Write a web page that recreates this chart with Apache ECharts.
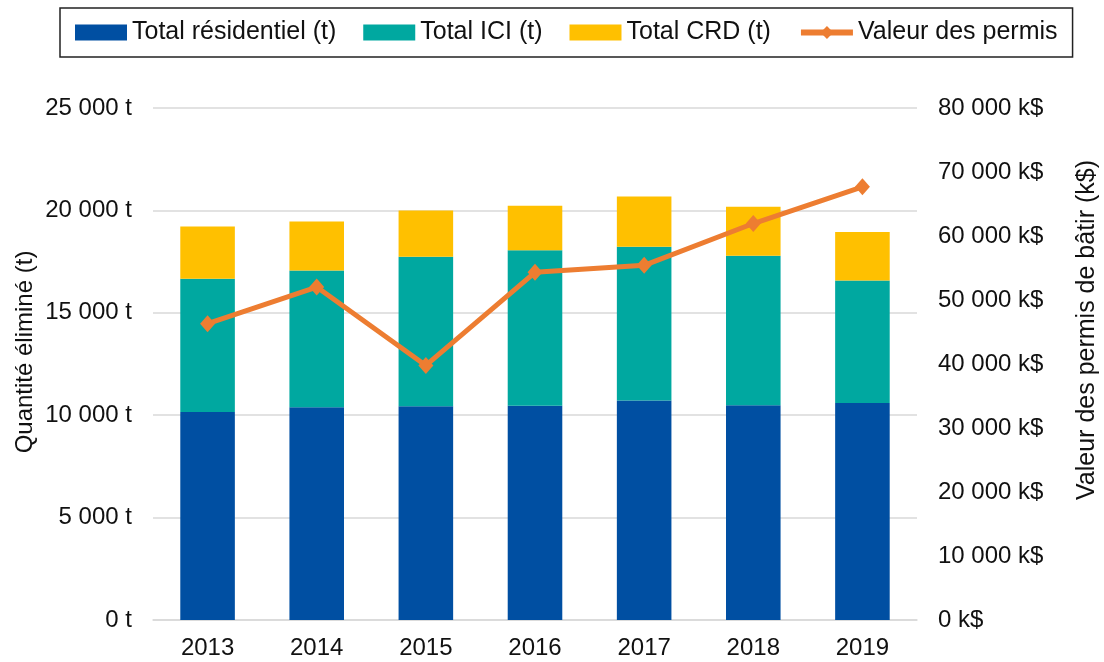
<!DOCTYPE html>
<html><head><meta charset="utf-8">
<script src="https://cdn.jsdelivr.net/npm/echarts@6/dist/echarts.min.js"></script>
<style>html,body{margin:0;padding:0;background:#fff}#c{width:1104px;height:662px}</style>
</head><body><div id="c"></div>
<script>
const years = ['2013','2014','2015','2016','2017','2018','2019'];
const residentiel = [10160, 10390, 10440, 10460, 10720, 10490, 10600];
const ici = [6500, 6680, 7300, 7590, 7510, 7300, 5980];
const crd = [2550, 2390, 2260, 2180, 2450, 2390, 2370];
const permis = [46300, 52030, 39770, 54330, 55420, 61950, 67680];
const leftTicks = {min: 0, max: 25000, interval: 5000};
const rightTicks = {min: 0, max: 80000, interval: 10000};
const leftName = 'Quantité éliminé (t)';
const rightName = 'Valeur des permis de bâtir (k$)';

function fmt(v){ return String(v).replace(/\B(?=(\d{3})+(?!\d))/g, ' '); }
const FONT = 'Liberation Sans';
const FS = 24;
const chart = echarts.init(document.getElementById('c'));
chart.setOption({
  animation: false,
  textStyle: {fontFamily: FONT},
  legend: {
    top: 8, left: 60,
    padding: [12, 15, 12, 15],
    borderColor: '#222', borderWidth: 1.5,
    itemWidth: 52, itemHeight: 16, itemGap: 27,
    textStyle: {fontSize: 25, color: '#111', fontFamily: FONT},
    data: [
      {name: 'Total résidentiel (t)', icon: 'rect'},
      {name: 'Total ICI (t)', icon: 'rect'},
      {name: 'Total CRD (t)', icon: 'rect'},
      {name: 'Valeur des permis', lineStyle: {width: 6}}]
  },
  grid: {left: 153, right: 187, top: 108, bottom: 42, outerBoundsMode: 'none', containLabel: false},
  xAxis: {
    type: 'category', data: years,
    axisLine: {show: true, lineStyle: {color: '#d9d9d9', width: 1.5}},
    axisTick: {show: false},
    axisLabel: {fontSize: FS, color: '#111', margin: 16}
  },
  yAxis: [{
    type: 'value', min: leftTicks.min, max: leftTicks.max, interval: leftTicks.interval,
    axisLine: {show: false}, axisTick: {show: false},
    axisLabel: {fontSize: FS, color: '#111', margin: 21, formatter: v => fmt(v) + ' t'},
    splitLine: {lineStyle: {color: '#d9d9d9', width: 1.5}}
  }, {
    type: 'value', min: rightTicks.min, max: rightTicks.max, interval: rightTicks.interval,
    axisLine: {show: false}, axisTick: {show: false},
    axisLabel: {fontSize: FS, color: '#111', margin: 21, formatter: v => fmt(v) + ' k$'},
    splitLine: {show: false}
  }],
  graphic: [
    {type: 'text', silent: true, x: 25, y: 352, rotation: Math.PI / 2,
     style: {text: leftName, font: FS + 'px ' + FONT, fill: '#111', align: 'center', verticalAlign: 'middle'}},
    {type: 'text', silent: true, x: 1087, y: 330, rotation: Math.PI / 2,
     style: {text: rightName, font: '25px ' + FONT, fill: '#111', align: 'center', verticalAlign: 'middle'}}
  ],
  series: [
    {name: 'Total résidentiel (t)', type: 'bar', stack: 's', barWidth: '50%', data: residentiel,
     itemStyle: {color: '#004FA2'}},
    {name: 'Total ICI (t)', type: 'bar', stack: 's', data: ici,
     itemStyle: {color: '#00A8A0'}},
    {name: 'Total CRD (t)', type: 'bar', stack: 's', data: crd,
     itemStyle: {color: '#FFC000'}},
    {name: 'Valeur des permis', type: 'line', yAxisIndex: 1, data: permis,
     symbol: 'diamond', symbolSize: [15, 17],
     lineStyle: {color: '#ED7D31', width: 5},
     itemStyle: {color: '#ED7D31'}}
  ]
});
</script></body></html>
